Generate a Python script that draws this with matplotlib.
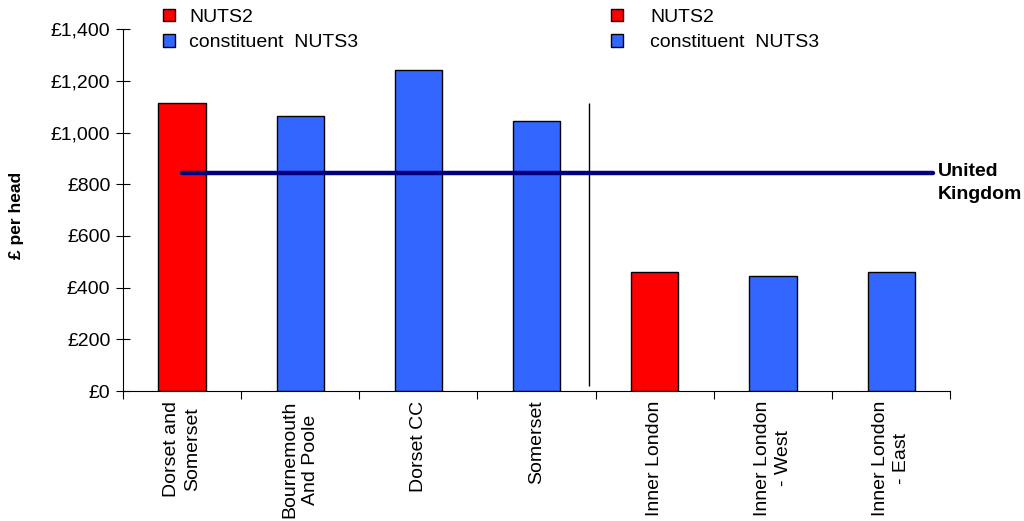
import numpy as np
import matplotlib.pyplot as plt
from matplotlib.patches import Patch

plt.rcParams['font.family'] = ['Liberation Sans', 'DejaVu Sans']
plt.rcParams['font.size'] = 14

# data
regions = ['Dorset and\nSomerset', 'Bournemouth\nAnd Poole', 'Dorset CC', 'Somerset',
           'Inner London', 'Inner London\n- West', 'Inner London\n- East']
values = [1114, 1063, 1241, 1044, 460, 445, 460]
levels = ['NUTS2', 'NUTS3', 'NUTS3', 'NUTS3', 'NUTS2', 'NUTS3', 'NUTS3']
uk_value = 843

colours = {'NUTS2': '#FF0000', 'NUTS3': '#3366FF'}

fig = plt.figure(figsize=(10.24, 5.21), dpi=100)
ax = fig.add_axes([0.120, 0.2495, 0.808, 0.6945])

x = np.arange(len(regions))
ax.bar(x, values, width=0.4, color=[colours[l] for l in levels],
       edgecolor='black', linewidth=1, zorder=2)

# UK average line
ax.plot([0, 6.35], [uk_value, uk_value], color='#000080', lw=3.2, zorder=3,
        solid_capstyle='round')
ax.annotate('United\nKingdom', xy=(6.35, uk_value), xytext=(4, 7),
            textcoords='offset points', ha='left', va='top', linespacing=1.4,
            fontweight='bold', annotation_clip=False)

# separator between the two groups
ax.vlines(3.44, 20, 1115, color='black', lw=1, zorder=1)

ax.set_xlim(-0.5, 6.5)
ax.set_ylim(0, 1400)
ax.set_yticks(np.arange(0, 1401, 200))
ax.set_yticklabels(['£{:,.0f}'.format(v) for v in np.arange(0, 1401, 200)])
ax.tick_params(axis='y', direction='inout', length=10, width=0.8, pad=4)

ax.set_xticks(x)
ax.set_xticklabels(regions, rotation=90, ha='center', va='top', multialignment='center',
                   linespacing=1.3)
ax.tick_params(axis='x', which='major', length=0, pad=7)
ax.set_xticks(np.arange(-0.5, 7, 1), minor=True)
ax.tick_params(axis='x', which='minor', direction='out', length=6, width=0.8)

for s in ['top', 'right']:
    ax.spines[s].set_visible(False)
for s in ['left', 'bottom']:
    ax.spines[s].set_linewidth(0.8)

fig.text(17 / 1024, 1 - 215 / 521, '£ per head', rotation=90, ha='center', va='center',
         fontweight='bold', fontsize=12.5)

handles = [Patch(facecolor=colours['NUTS2'], edgecolor='black'),
           Patch(facecolor=colours['NUTS3'], edgecolor='black')]
names = ['NUTS2', 'constituent  NUTS3']
leg1 = fig.legend(handles, names, loc='upper left', bbox_to_anchor=(163 / 1024, 1 - 9 / 521),
                  frameon=False, borderpad=0, borderaxespad=0, handlelength=0.6,
                  handleheight=0.6, handletextpad=0.75, labelspacing=0.42)
leg2 = fig.legend(handles, names, loc='upper left', bbox_to_anchor=(611 / 1024, 1 - 9 / 521),
                  frameon=False, borderpad=0, borderaxespad=0, handlelength=0.6,
                  handleheight=0.6, handletextpad=1.4, labelspacing=0.42)

fig.savefig('out.png', dpi=100)
